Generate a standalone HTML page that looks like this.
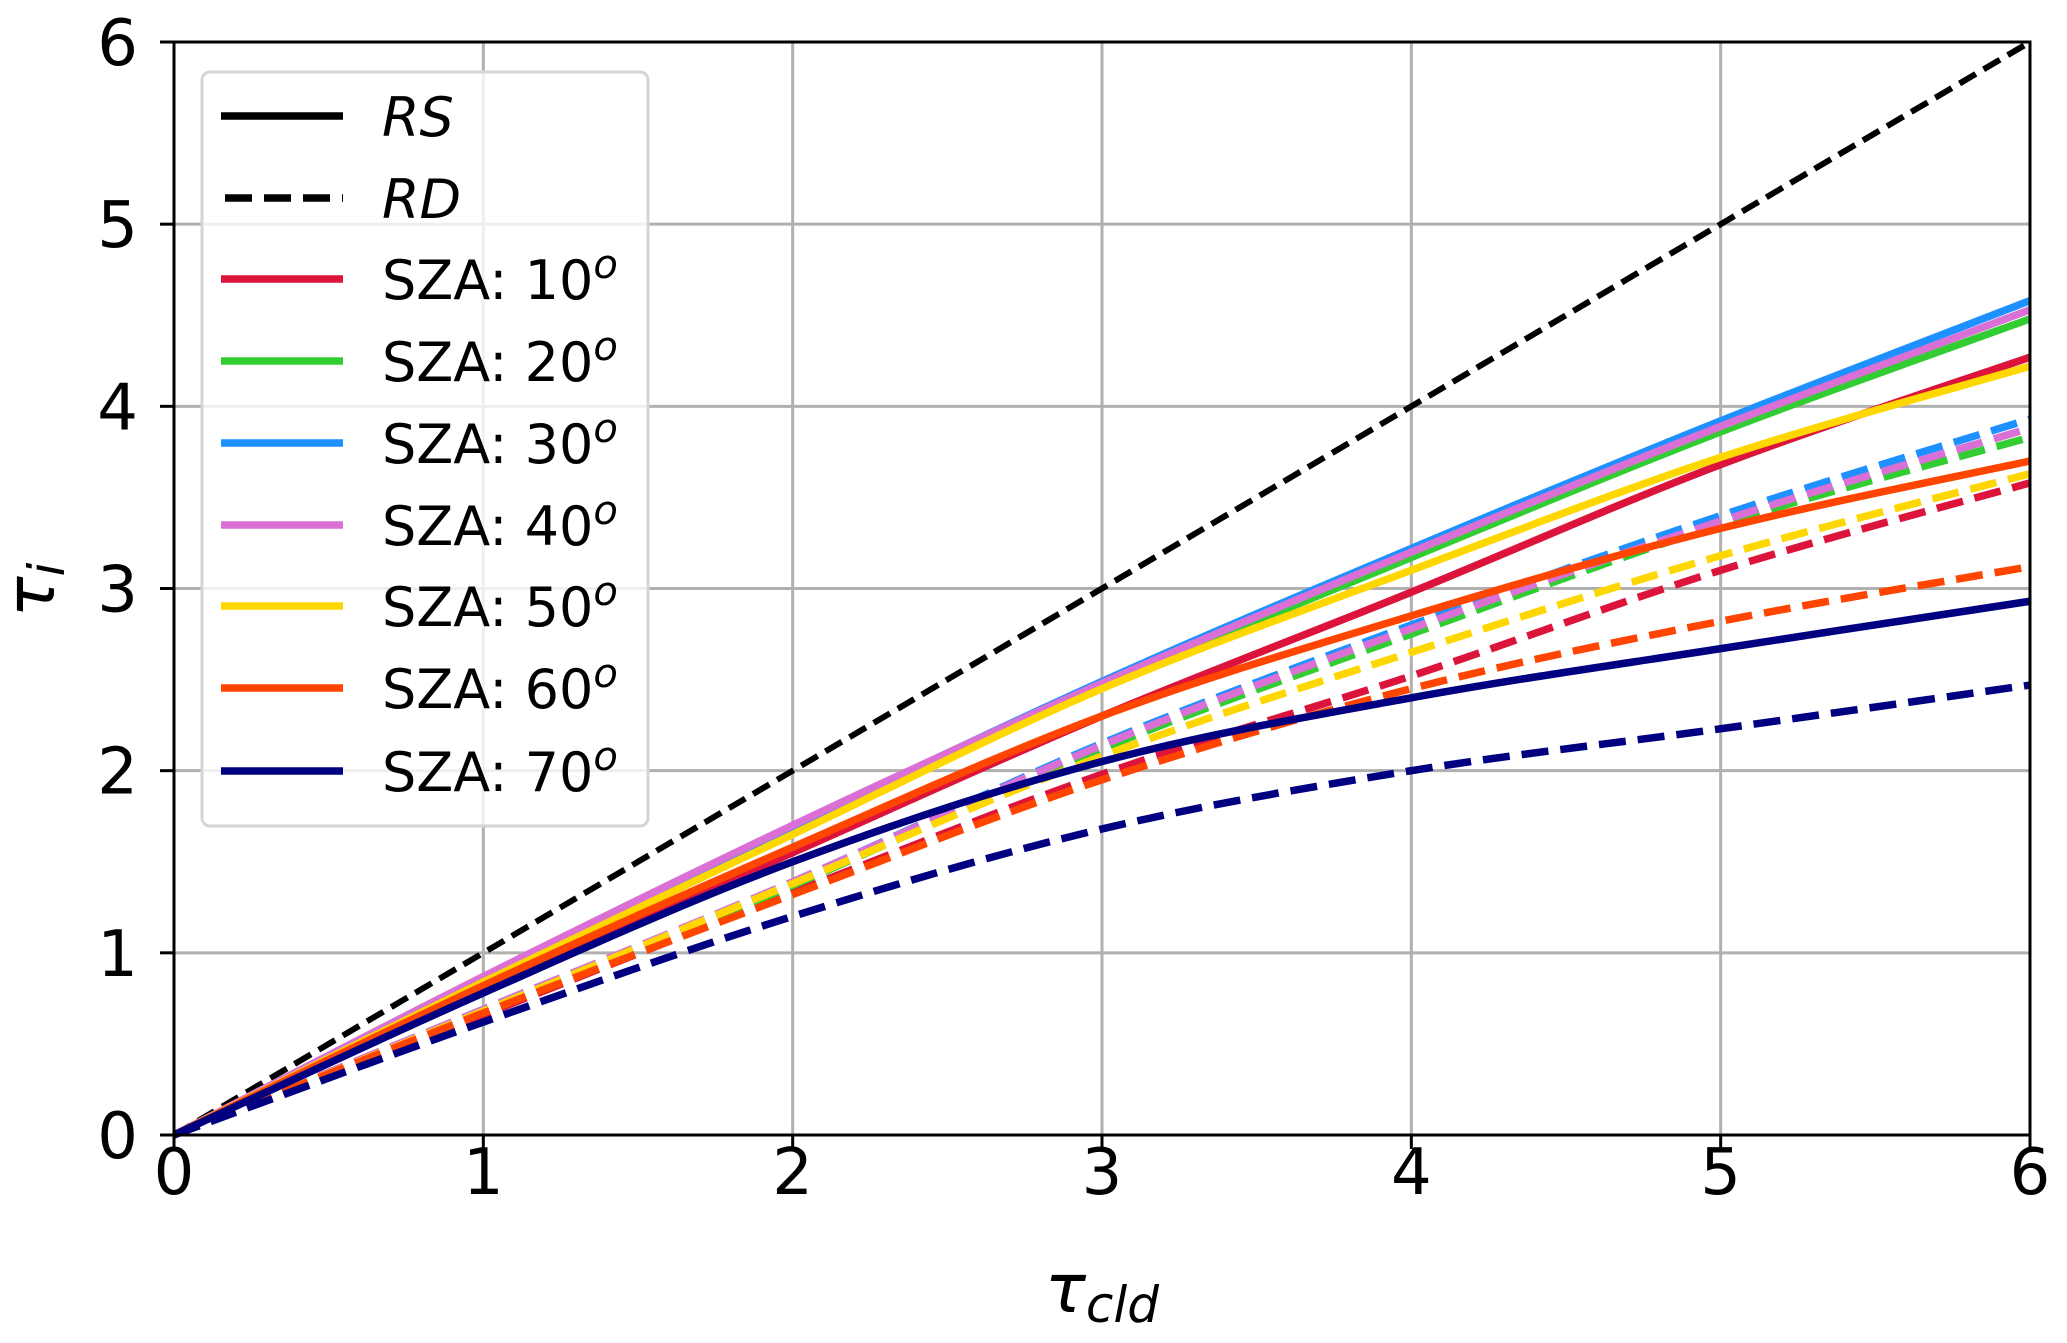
<!DOCTYPE html>
<html><head><meta charset="utf-8"><style>
html,body{margin:0;padding:0;background:#fff}
svg{display:block}
text{font-family:"DejaVu Sans","Liberation Sans",sans-serif;fill:#000}
</style></head><body>
<svg id="chart" width="2067" height="1343" viewBox="0 0 2067 1343" xmlns="http://www.w3.org/2000/svg">
<g id="grid"></g>
<g id="series"></g>
<rect x="174" y="42" width="1856" height="1093" fill="none" stroke="#000" stroke-width="3"/>
<g id="ticks"></g>
<text x="1102" y="1312" font-size="68" text-anchor="middle" font-style="italic">τ<tspan font-size="50" dy="10">cld</tspan></text>
<text transform="translate(54,590) rotate(-90)" font-size="68" text-anchor="middle" font-style="italic">τ<tspan font-size="50" dy="10">i</tspan></text>
<g id="legend">
<rect x="202" y="72" width="446" height="754" rx="8" fill="#fff" fill-opacity="0.8" stroke="#d5d5d5" stroke-width="3"/>
</g>
</svg>
<script>
const xs = [0,1,2,3,4,5,6];
const ticks = [0,1,2,3,4,5,6];
const labels = ["SZA: 10","SZA: 20","SZA: 30","SZA: 40","SZA: 50","SZA: 60","SZA: 70"];
const colors = ["#dc143c","#32cd32","#1e90ff","#da70d6","#ffd700","#ff4500","#000080"];
const rs10 = [0,0.80,1.55,2.30,2.98,3.68,4.27];
const rs20 = [0,0.85,1.67,2.46,3.17,3.86,4.48];
const rs30 = [0,0.86,1.69,2.49,3.22,3.92,4.58];
const rs40 = [0,0.87,1.70,2.48,3.20,3.89,4.53];
const rs50 = [0,0.84,1.65,2.45,3.10,3.72,4.22];
const rs60 = [0,0.82,1.58,2.30,2.85,3.33,3.70];
const rs70 = [0,0.78,1.50,2.05,2.40,2.67,2.93];
const rd10 = [0,0.66,1.33,1.98,2.52,3.10,3.58];
const rd20 = [0,0.68,1.37,2.12,2.75,3.35,3.83];
const rd30 = [0,0.69,1.39,2.15,2.80,3.40,3.93];
const rd40 = [0,0.69,1.39,2.14,2.78,3.37,3.88];
const rd50 = [0,0.68,1.38,2.08,2.65,3.18,3.63];
const rd60 = [0,0.67,1.32,1.95,2.45,2.82,3.12];
const rd70 = [0,0.62,1.20,1.68,2.00,2.23,2.47];
const rdRef = [0,1,2,3,4,5,6];
const rsSeries = [rs10,rs20,rs30,rs40,rs50,rs60,rs70];
const rdSeries = [rd10,rd20,rd30,rd40,rd50,rd60,rd70];

const NS="http://www.w3.org/2000/svg";
const X = v => 174 + v*(2030-174)/6;
const Y = v => 1135 - v*(1135-42)/6;
function mk(tag, attrs, parent){const e=document.createElementNS(NS,tag);for(const k in attrs)e.setAttribute(k,attrs[k]);parent.appendChild(e);return e;}
function pathD(vals){
  const p = xs.map((x,i)=>[X(x),Y(vals[i])]);
  let d="M"+p[0][0]+","+p[0][1];
  for(let i=0;i<p.length-1;i++){
    const p0=p[Math.max(0,i-1)],p1=p[i],p2=p[i+1],p3=p[Math.min(p.length-1,i+2)];
    const c1=[p1[0]+(p2[0]-p0[0])/6,p1[1]+(p2[1]-p0[1])/6];
    const c2=[p2[0]-(p3[0]-p1[0])/6,p2[1]-(p3[1]-p1[1])/6];
    d+=" C"+c1+" "+c2+" "+p2;
  }
  return d;
}
const grid=document.getElementById('grid');
const tk=document.getElementById('ticks');
ticks.forEach(t=>{
  const gx=mk('line',{x1:X(t),x2:X(t),y1:42,y2:1135,stroke:'#b0b0b0','stroke-width':3},grid);
  
  
  const gy=mk('line',{x1:174,x2:2030,y1:Y(t),y2:Y(t),stroke:'#b0b0b0','stroke-width':3},grid);
  
  
  const mx=mk('line',{x1:X(t),x2:X(t),y1:1135,y2:1149,stroke:'#000','stroke-width':3},tk);
  
  
  const my=mk('line',{x1:160,x2:174,y1:Y(t),y2:Y(t),stroke:'#000','stroke-width':3},tk);
  
  
  const lx=mk('text',{x:X(t),y:1194,'font-size':64,'text-anchor':'middle'},tk);
  lx.textContent=t;
  
  
  const ly=mk('text',{x:138,y:Y(t)+23,'font-size':64,'text-anchor':'end'},tk);
  ly.textContent=t;
  
  
});
const S=document.getElementById('series');
const ref=mk('path',{d:pathD(rdRef),fill:'none',stroke:'#000','stroke-width':6,'stroke-dasharray':'19 9'},S);


rdSeries.forEach((s,i)=>{
  const p=mk('path',{d:pathD(s),fill:'none',stroke:colors[i],'stroke-width':7.5,'stroke-dasharray':'27 12'},S);
  
  
});
rsSeries.forEach((s,i)=>{
  const p=mk('path',{d:pathD(s),fill:'none',stroke:colors[i],'stroke-width':7.5,'stroke-linejoin':'round'},S);
  
  
});
const L=document.getElementById('legend');
const ys=[116,198,279,361,443,525,606,688,771];
const e1=mk('line',{x1:221,x2:343,y1:ys[0],y2:ys[0],stroke:'#000','stroke-width':7.5},L);


const t1=mk('text',{x:382,y:ys[0]+20,'font-size':54,'font-style':'italic'},L);t1.textContent='RS';


const e2=mk('line',{x1:225,x2:343,y1:ys[1],y2:ys[1],stroke:'#000','stroke-width':7.5,'stroke-dasharray':'27 12'},L);


const t2=mk('text',{x:382,y:ys[1]+20,'font-size':54,'font-style':'italic'},L);t2.textContent='RD';


labels.forEach((lb,i)=>{
  const y=ys[i+2];
  const sw=mk('line',{x1:221,x2:343,y1:y,y2:y,stroke:colors[i],'stroke-width':7.5},L);
  
  
  const t=mk('text',{x:382,y:y+20,'font-size':54},L);
  t.textContent=lb;
  const sup=mk('tspan',{'font-size':40,dy:-21,'font-style':'italic'},t);sup.textContent='o';
  
  
});
</script>
</body></html>
